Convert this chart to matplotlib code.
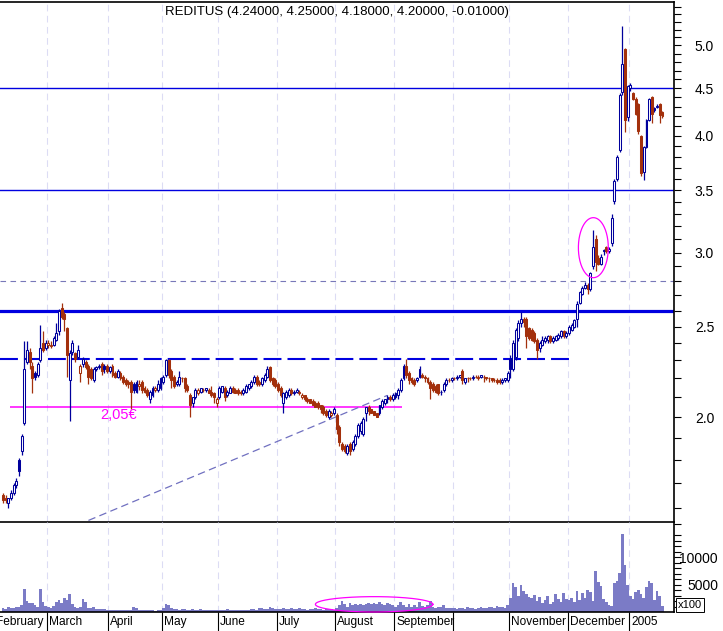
import numpy as np
import pandas as pd
import matplotlib
matplotlib.use("Agg")
import matplotlib.pyplot as plt
from matplotlib import font_manager, transforms
from matplotlib.ticker import FixedLocator, FuncFormatter, NullFormatter

# ---------------- data ----------------
ticker = "REDITUS"
start_date = "2004-02-05"
end_date = "2005-01-19"
market_holidays = ["2004-04-09", "2004-04-12"]

open_ = [
    # Feb
    1.65, 1.64, 1.62, 1.64, 1.66, 1.69, 1.80, 1.84, 1.97, 2.29, 2.35, 2.27, 2.23, 2.22, 2.30, 2.40, 2.37,
    # Mar
    2.39, 2.38, 2.39, 2.42, 2.47, 2.62, 2.58, 2.49, 2.19, 2.35, 2.34, 2.32, 2.23, 2.28, 2.29, 2.27, 2.25, 2.19, 2.25, 2.26, 2.28, 2.27, 2.27,
    # Apr
    2.24, 2.27, 2.23, 2.21, 2.23, 2.21, 2.19, 2.18, 2.18, 2.17, 2.13, 2.16, 2.18, 2.15, 2.14, 2.09, 2.11, 2.14, 2.14, 2.15,
    # May
    2.18, 2.22, 2.30, 2.24, 2.21, 2.17, 2.17, 2.20, 2.20, 2.16, 2.11, 2.07, 2.10, 2.12, 2.13, 2.14, 2.14, 2.14, 2.13, 2.12, 2.07,
    # Jun
    2.10, 2.13, 2.15, 2.11, 2.12, 2.15, 2.14, 2.14, 2.13, 2.12, 2.13, 2.15, 2.16, 2.18, 2.21, 2.18, 2.17, 2.19, 2.21, 2.26, 2.20, 2.19,
    # Jul
    2.17, 2.15, 2.07, 2.10, 2.11, 2.14, 2.12, 2.13, 2.13, 2.10, 2.11, 2.09, 2.09, 2.08, 2.07, 2.07, 2.06, 2.05, 2.03, 2.00, 2.01, 2.02,
    # Aug
    2.01, 1.95, 1.87, 1.86, 1.83, 1.87, 1.85, 1.87, 1.91, 1.93, 1.92, 2.02, 2.05, 2.04, 2.03, 2.02, 2.02, 2.05, 2.07, 2.09, 2.10, 2.09,
    # Sep
    2.10, 2.11, 2.14, 2.20, 2.27, 2.23, 2.20, 2.19, 2.19, 2.21, 2.22, 2.21, 2.20, 2.18, 2.17, 2.16, 2.17, 2.13, 2.14, 2.17, 2.19, 2.19,
    # Oct
    2.20, 2.20, 2.21, 2.24, 2.18, 2.20, 2.20, 2.20, 2.21, 2.20, 2.21, 2.21, 2.21, 2.20, 2.20, 2.19, 2.19, 2.19, 2.18, 2.19, 2.19,
    # Nov
    2.31, 2.25, 2.32, 2.43, 2.52, 2.55, 2.55, 2.49, 2.48, 2.46, 2.42, 2.37, 2.39, 2.41, 2.42, 2.44, 2.41, 2.42, 2.43, 2.44, 2.47, 2.44,
    # Dec
    2.46, 2.48, 2.50, 2.55, 2.65, 2.71, 2.75, 2.77, 2.74, 2.90, 3.10, 2.96, 2.92, 3.01, 3.04, 3.01, 3.07, 3.41, 3.60, 3.86, 4.46, 4.96, 4.19,
    # Jan
    4.50, 4.45, 4.38, 4.33, 4.00, 3.66, 3.89, 4.16, 4.40, 4.26, 4.30, 4.33, 4.24,
]
high = [
    1.66, 1.65, 1.64, 1.67, 1.70, 1.72, 1.81, 1.92, 2.41, 2.41, 2.37, 2.29, 2.24, 2.29, 2.51, 2.47, 2.42,
    2.42, 2.41, 2.44, 2.52, 2.61, 2.65, 2.59, 2.50, 2.36, 2.42, 2.35, 2.39, 2.28, 2.32, 2.30, 2.28, 2.26, 2.26, 2.27, 2.28, 2.29, 2.28, 2.28,
    2.27, 2.28, 2.24, 2.25, 2.24, 2.22, 2.20, 2.19, 2.19, 2.18, 2.19, 2.19, 2.19, 2.16, 2.15, 2.14, 2.16, 2.16, 2.19, 2.21,
    2.22, 2.31, 2.31, 2.25, 2.22, 2.19, 2.24, 2.21, 2.21, 2.17, 2.12, 2.10, 2.15, 2.15, 2.15, 2.15, 2.15, 2.15, 2.16, 2.13, 2.10,
    2.16, 2.16, 2.16, 2.14, 2.16, 2.16, 2.15, 2.15, 2.14, 2.15, 2.17, 2.17, 2.19, 2.22, 2.22, 2.19, 2.21, 2.23, 2.27, 2.27, 2.21, 2.20,
    2.18, 2.16, 2.13, 2.14, 2.15, 2.15, 2.14, 2.15, 2.14, 2.12, 2.11, 2.10, 2.09, 2.09, 2.08, 2.08, 2.06, 2.06, 2.04, 2.04, 2.03, 2.05,
    2.02, 1.96, 1.88, 1.87, 1.87, 1.88, 1.89, 1.92, 1.97, 1.98, 2.00, 2.05, 2.06, 2.04, 2.03, 2.02, 2.06, 2.09, 2.09, 2.11, 2.11, 2.12,
    2.13, 2.15, 2.20, 2.28, 2.31, 2.24, 2.21, 2.20, 2.21, 2.27, 2.23, 2.22, 2.21, 2.19, 2.18, 2.17, 2.17, 2.14, 2.18, 2.20, 2.20, 2.21,
    2.21, 2.22, 2.22, 2.25, 2.20, 2.21, 2.21, 2.22, 2.22, 2.22, 2.22, 2.22, 2.21, 2.21, 2.20, 2.20, 2.20, 2.20, 2.20, 2.20, 2.24,
    2.33, 2.42, 2.49, 2.54, 2.59, 2.56, 2.56, 2.50, 2.49, 2.47, 2.43, 2.41, 2.44, 2.44, 2.45, 2.45, 2.44, 2.45, 2.46, 2.48, 2.48, 2.47,
    2.51, 2.52, 2.55, 2.66, 2.73, 2.76, 2.79, 2.78, 2.86, 3.17, 3.13, 2.98, 2.99, 3.03, 3.05, 3.04, 3.30, 3.60, 3.82, 4.45, 5.25, 4.97, 4.53,
    4.56, 4.46, 4.40, 4.34, 4.01, 3.90, 4.17, 4.39, 4.41, 4.30, 4.33, 4.34, 4.25,
]
low = [
    1.62, 1.62, 1.60, 1.63, 1.65, 1.68, 1.73, 1.82, 1.96, 2.28, 2.25, 2.12, 2.19, 2.21, 2.29, 2.35, 2.36,
    2.37, 2.37, 2.38, 2.41, 2.45, 2.55, 2.47, 2.21, 1.98, 2.33, 2.29, 2.31, 2.18, 2.26, 2.25, 2.17, 2.19, 2.18, 2.24, 2.25, 2.22, 2.23, 2.23,
    2.23, 2.21, 2.20, 2.20, 2.19, 2.17, 2.16, 2.15, 2.04, 2.12, 2.12, 2.14, 2.12, 2.12, 2.10, 2.07, 2.10, 2.13, 2.13, 2.14,
    2.17, 2.21, 2.20, 2.15, 2.15, 2.16, 2.16, 2.18, 2.13, 2.13, 2.00, 2.05, 2.09, 2.11, 2.12, 2.13, 2.13, 2.12, 2.10, 2.07, 2.05,
    2.09, 2.12, 2.08, 2.10, 2.12, 2.12, 2.12, 2.11, 2.11, 2.11, 2.12, 2.14, 2.15, 2.17, 2.16, 2.16, 2.16, 2.18, 2.20, 2.18, 2.16, 2.15,
    2.13, 2.10, 2.02, 2.09, 2.10, 2.11, 2.11, 2.12, 2.11, 2.09, 2.08, 2.07, 2.07, 2.06, 2.05, 2.04, 2.02, 2.01, 2.00, 1.99, 2.00, 2.01,
    1.92, 1.86, 1.84, 1.83, 1.82, 1.82, 1.84, 1.86, 1.90, 1.92, 1.91, 1.98, 2.01, 2.02, 2.01, 2.00, 2.01, 2.04, 2.06, 2.07, 2.08, 2.08,
    2.09, 2.09, 2.13, 2.19, 2.20, 2.17, 2.17, 2.16, 2.18, 2.20, 2.20, 2.18, 2.17, 2.09, 2.13, 2.12, 2.11, 2.11, 2.13, 2.16, 2.18, 2.18,
    2.19, 2.19, 2.20, 2.17, 2.17, 2.18, 2.19, 2.19, 2.20, 2.19, 2.20, 2.18, 2.19, 2.18, 2.18, 2.18, 2.17, 2.17, 2.17, 2.18, 2.18,
    2.20, 2.24, 2.30, 2.41, 2.50, 2.50, 2.37, 2.42, 2.41, 2.40, 2.31, 2.35, 2.38, 2.40, 2.40, 2.40, 2.40, 2.41, 2.42, 2.43, 2.43, 2.43,
    2.45, 2.47, 2.49, 2.50, 2.64, 2.70, 2.74, 2.71, 2.73, 2.88, 2.87, 2.91, 2.91, 2.98, 3.00, 3.00, 3.05, 3.38, 3.58, 3.84, 4.43, 4.04, 4.15,
    4.47, 4.37, 4.21, 4.02, 3.62, 3.59, 3.88, 4.15, 4.13, 4.24, 4.28, 4.13, 4.18,
]
close = [
    1.63, 1.63, 1.64, 1.66, 1.69, 1.71, 1.75, 1.91, 2.25, 2.36, 2.29, 2.20, 2.21, 2.28, 2.37, 2.36, 2.40,
    2.40, 2.39, 2.43, 2.46, 2.60, 2.56, 2.55, 2.33, 2.34, 2.40, 2.31, 2.36, 2.27, 2.31, 2.26, 2.21, 2.20, 2.25, 2.26, 2.27, 2.24, 2.25, 2.24,
    2.26, 2.22, 2.21, 2.24, 2.20, 2.18, 2.17, 2.17, 2.13, 2.14, 2.18, 2.17, 2.14, 2.13, 2.11, 2.13, 2.15, 2.15, 2.17, 2.20,
    2.21, 2.30, 2.22, 2.19, 2.16, 2.18, 2.21, 2.20, 2.15, 2.14, 2.06, 2.10, 2.14, 2.14, 2.15, 2.14, 2.15, 2.12, 2.11, 2.10, 2.09,
    2.15, 2.16, 2.10, 2.13, 2.15, 2.13, 2.12, 2.12, 2.12, 2.14, 2.16, 2.17, 2.18, 2.21, 2.17, 2.17, 2.20, 2.22, 2.25, 2.19, 2.17, 2.16,
    2.14, 2.11, 2.12, 2.13, 2.14, 2.12, 2.13, 2.14, 2.12, 2.11, 2.09, 2.08, 2.07, 2.06, 2.05, 2.05, 2.04, 2.02, 2.01, 2.03, 2.02, 2.04,
    1.94, 1.88, 1.85, 1.84, 1.86, 1.84, 1.88, 1.91, 1.96, 1.97, 1.99, 2.05, 2.03, 2.02, 2.01, 2.00, 2.06, 2.08, 2.09, 2.10, 2.09, 2.11,
    2.12, 2.14, 2.19, 2.27, 2.22, 2.19, 2.18, 2.17, 2.20, 2.25, 2.21, 2.20, 2.18, 2.15, 2.14, 2.13, 2.12, 2.13, 2.17, 2.19, 2.19, 2.20,
    2.20, 2.21, 2.22, 2.19, 2.20, 2.20, 2.20, 2.21, 2.21, 2.21, 2.22, 2.21, 2.20, 2.20, 2.19, 2.19, 2.18, 2.18, 2.19, 2.20, 2.23,
    2.25, 2.40, 2.48, 2.52, 2.55, 2.53, 2.44, 2.43, 2.42, 2.41, 2.36, 2.40, 2.42, 2.43, 2.44, 2.41, 2.43, 2.44, 2.45, 2.47, 2.44, 2.46,
    2.50, 2.51, 2.54, 2.64, 2.72, 2.75, 2.77, 2.74, 2.85, 3.04, 2.93, 2.92, 2.97, 3.02, 3.01, 3.03, 3.27, 3.58, 3.80, 4.43, 4.78, 4.16, 4.52,
    4.53, 4.38, 4.22, 4.05, 3.65, 3.89, 4.16, 4.38, 4.22, 4.29, 4.31, 4.21, 4.20,
]
volume = [  # x100 shares
    700, 500, 900, 800, 700, 1000, 900, 1200, 4200, 2000, 1600, 1700, 1300, 1000, 4200, 1800, 1100,
    1000, 800, 1100, 1900, 2200, 1700, 2600, 2200, 3200, 1500, 900, 800, 1000, 2400, 1900, 800, 700, 900, 600, 500, 600, 500, 400,
    400, 350, 300, 350, 400, 350, 300, 400, 350, 900, 800, 400, 350, 300, 300, 350, 300, 250, 300, 350,
    800, 1400, 1200, 700, 600, 500, 400, 600, 500, 300, 400, 500, 350, 300, 600, 400, 300, 350, 400, 300, 350,
    400, 300, 350, 500, 400, 300, 350, 400, 450, 300, 350, 400, 600, 500, 400, 700, 800, 600, 500, 900, 700, 600,
    600, 500, 700, 600, 500, 800, 600, 500, 700, 600, 500, 400, 500, 600, 700, 500, 600, 400, 500, 600, 500, 400,
    700, 1200, 2000, 1400, 1000, 1600, 1300, 1500, 1200, 1400, 1300, 1500, 1600, 1400, 1700, 1500, 1800, 1400, 1300, 1600, 1500, 1200,
    1000, 1300, 1800, 1200, 1000, 1500, 900, 1300, 1000, 1900, 1100, 900, 1200, 2000, 1000, 800, 1000, 900, 1200, 800, 700, 800,
    700, 600, 800, 700, 600, 1000, 800, 700, 600, 800, 900, 700, 800, 1000, 900, 800, 1100, 900, 1000, 800, 1200,
    2500, 5200, 4500, 3000, 4900, 3800, 3300, 2700, 2500, 3100, 2000, 2800, 1600, 2200, 2900, 1500, 1900, 3200, 2300, 1800, 3400, 2400,
    2200, 2500, 1800, 3800, 2100, 3500, 2600, 4100, 3600, 2000, 7400, 5400, 4800, 2400, 1900, 1300, 1100, 5200, 5600, 7100, 14200, 8600, 5000,
    3000, 2400, 3600, 4100, 3300, 2500, 4600, 5700, 5200, 2200, 3800, 3000, 1100,
]

month_labels = ["February", "March", "April", "May", "June", "July", "August",
                "September", "", "November", "December", "2005"]

# drawn levels / annotations
level_thick = 2.60
level_dashed = 2.31
level_dashed_end = "2004-12-01"
level_support = 2.05
support_from, support_to = "2004-02-10", "2004-09-03"
support_label = "2,05€"
level_dotted = 2.80
level_lines = [3.50, 4.50]
trend_from = ("2004-03-22", 1.55)
trend_to = ("2004-08-27", 2.11)
circle_from, circle_to = "2004-12-07", "2004-12-21"
circle_lo, circle_hi = 2.82, 3.27
vol_circle_from, vol_circle_to = "2004-07-21", "2004-09-21"
vol_circle_hi = 2800

# ---------------- setup ----------------
names = {f.name for f in font_manager.fontManager.ttflist}
NARROW = "Liberation Sans Narrow" if "Liberation Sans Narrow" in names else "Liberation Sans"
plt.rcParams["font.family"] = [NARROW, "DejaVu Sans"]

dates = pd.bdate_range(start_date, end_date).drop(pd.to_datetime(market_holidays))
n = len(dates)
assert n == len(open_) == len(high) == len(low) == len(close) == len(volume), (
    n, len(open_), len(high), len(low), len(close), len(volume))
O = np.array(open_); Hh = np.array(high); L = np.array(low); C = np.array(close)
V = np.array(volume)
x = np.arange(n)


def idx(d):
    return dates.get_loc(pd.Timestamp(d))


W, H = 723, 631
PX = 2.67  # px per bar
XL = (-3 / PX, -3 / PX + 674 / PX)

BLUE = "#00009c"
RED = "#a3300c"
VOLC = "#7b7bc6"
GRID = "#dcdcf4"

fig = plt.figure(figsize=(W / 100, H / 100), dpi=100)
ax = fig.add_axes([0, (H - 522) / H, 674 / W, 520.5 / H])
axv = fig.add_axes([0, (H - 612) / H, 674 / W, 90 / H])
axl = fig.add_axes([0, 0, 674 / W, (H - 612) / H])
for a in (axv, axl):
    a.patch.set_visible(False)

# month boundaries
bounds = [i for i in range(1, n) if dates[i].month != dates[i - 1].month]
feb_first = pd.Timestamp("2004-02-02")
bounds = [-(len(pd.bdate_range(feb_first, dates[0])) - 1)] + bounds
bpos = [b - 0.5 for b in bounds]

# ---------------- price panel ----------------
ax.set_yscale("log")
ax.set_xlim(*XL)
ax.set_ylim(1.544, 5.572)
for b in bpos[1:]:
    ax.axvline(b, color=GRID, lw=0.8, ls=(0, (6, 4)), zorder=0)

prev = np.r_[C[0] + 1, C[:-1]]
col = np.where(C > prev, BLUE, RED)
face = np.where(C > O, "white", col)
ax.vlines(x, L, Hh, colors=col, lw=0.9, zorder=3)
ax.bar(x, np.abs(C - O), bottom=np.minimum(O, C), width=0.72, color=face,
       edgecolor=col, linewidth=0.75, zorder=4)

ax.axhline(level_thick, color="#0000e0", lw=2.3, zorder=2)
ax.hlines(level_dashed, XL[0], idx(level_dashed_end), color="#0000e0", lw=1.5,
          ls=(0, (8.6, 2.9)), zorder=2)
ax.hlines(level_support, idx(support_from) - 0.5, idx(support_to) + 0.5,
          color="#ff00ff", lw=1.1, zorder=2)
ax.text(idx("2004-03-29") - 0.6, 2.01, support_label, color="#ff00ff",
        fontsize=10.5, ha="left", va="center", zorder=5)
ax.axhline(level_dotted, color="#7878b8", lw=0.8, ls=(0, (5, 4)), zorder=2)
for lv in level_lines:
    ax.axhline(lv, color="#0000e0", lw=1.0, zorder=2)
ax.plot([idx(trend_from[0]), idx(trend_to[0])], [trend_from[1], trend_to[1]],
        color="#7070c0", lw=0.9, ls=(0, (6, 3.5)), zorder=2, clip_on=True)

# highlight ellipse (straight in display space on log axis)
t = np.linspace(0, 2 * np.pi, 200)
cx = (idx(circle_from) + idx(circle_to)) / 2 + 0.1
ra = (idx(circle_to) - idx(circle_from)) / 2 + 0.6
cy = np.sqrt(circle_lo * circle_hi)
rb = np.log(circle_hi / circle_lo) / 2
ax.plot(cx + ra * np.cos(t), cy * np.exp(rb * np.sin(t)), color="#ff00ff", lw=0.9, zorder=5)

ax.yaxis.tick_right()
majors = [2.0, 2.5, 3.0, 3.5, 4.0, 4.5, 5.0]
ax.yaxis.set_major_locator(FixedLocator(majors))
ax.yaxis.set_major_formatter(FuncFormatter(lambda v, p: f"{v:.1f}"))
ax.yaxis.set_minor_locator(FixedLocator([round(v, 1) for v in np.arange(1.6, 5.6, 0.1)
                                         if round(v, 1) not in majors]))
ax.yaxis.set_minor_formatter(NullFormatter())
ax.tick_params(axis="y", which="both", direction="out", length=5, width=0.8,
               pad=10, labelsize=10, colors="black")
ax.set_xticks([])
ax.spines["left"].set_visible(False)
for s in ["top", "bottom", "right"]:
    ax.spines[s].set_linewidth(1.2)
    ax.spines[s].set_color("black")

title = f"{ticker} ({O[-1]:.5f}, {Hh[-1]:.5f}, {L[-1]:.5f}, {C[-1]:.5f}, {C[-1]-C[-2]:.5f})"
ax.text(0.5, 1 - 11 / 521, title, transform=ax.transAxes, ha="center", va="center",
        fontsize=9.5, color="black", zorder=6)

# ---------------- volume panel ----------------
axv.set_xlim(*XL)
axv.set_ylim(0, 16400)
for b in bpos[1:]:
    axv.axvline(b, color=GRID, lw=0.8, ls=(0, (6, 4)), zorder=0)
axv.bar(x, V, width=1.0, color=VOLC, lw=0, zorder=2)
vx0, vx1 = idx(vol_circle_from), idx(vol_circle_to)
axv.plot((vx0 + vx1) / 2 + (vx1 - vx0) / 2 * np.cos(t),
         vol_circle_hi / 2 + vol_circle_hi / 2 * np.sin(t), color="#ff00ff", lw=0.9,
         zorder=3, clip_on=False)
axv.yaxis.tick_right()
axv.yaxis.set_major_locator(FixedLocator([5000, 10000]))
axv.yaxis.set_minor_locator(FixedLocator([v for v in range(1000, 16001, 1000) if v % 5000]))
axv.yaxis.set_minor_formatter(NullFormatter())
axv.tick_params(axis="y", which="both", direction="out", length=5, width=0.8,
                pad=26.7, labelsize=10, colors="black")
for lab in axv.get_yticklabels():
    lab.set_horizontalalignment("right")
axv.set_xticks([])
axv.spines["left"].set_visible(False)
axv.spines["top"].set_visible(False)
axv.spines["bottom"].set_linewidth(1.2)
axv.spines["right"].set_linewidth(1.2)
fig.text(678 / W, 1 - 605 / H, "x100", fontsize=8, ha="left", va="center",
         bbox=dict(boxstyle="square,pad=0.15", fc="white", ec="black", lw=0.7))

# ---------------- month label row ----------------
axl.set_xlim(*XL)
axl.set_ylim(0, 1)
axl.axis("off")
axl.vlines(bpos, 0, 1, color="black", lw=0.8)
off = transforms.offset_copy(axl.transData, fig=fig, x=2, y=0, units="dots")
for b, lab in zip(bpos, month_labels):
    axl.text(b, 0.45, lab, transform=off, ha="left", va="center", fontsize=8.6, color="black")

fig.savefig("out.png", dpi=100)
